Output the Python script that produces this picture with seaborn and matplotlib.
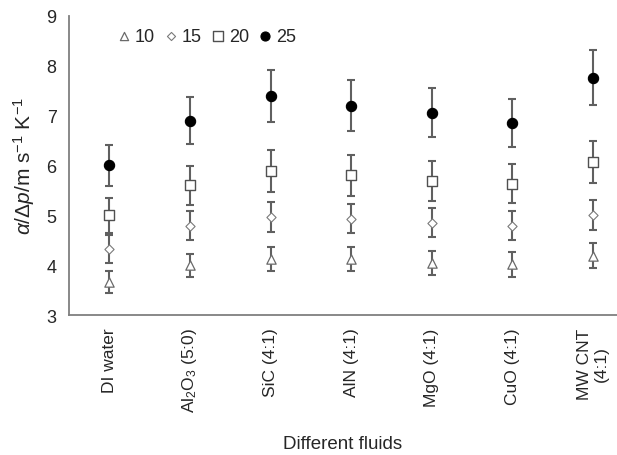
import numpy as np
import pandas as pd
import matplotlib
matplotlib.use("Agg")
import matplotlib.pyplot as plt
import seaborn as sns

fluids = ["DI water", r"Al$_2$O$_3$ (5:0)", "SiC (4:1)", "AlN (4:1)",
          "MgO (4:1)", "CuO (4:1)", "MW CNT\n(4:1)"]
series_labels = ["10", "15", "20", "25"]

vals_10 = [3.67, 4.00, 4.13, 4.13, 4.05, 4.02, 4.19]
vals_15 = [4.33, 4.79, 4.97, 4.93, 4.85, 4.79, 5.01]
vals_20 = [5.00, 5.60, 5.89, 5.80, 5.69, 5.63, 6.07]
vals_25 = [6.00, 6.90, 7.40, 7.20, 7.06, 6.85, 7.76]

err_10 = [0.22, 0.23, 0.24, 0.24, 0.24, 0.25, 0.25]
err_15 = [0.28, 0.29, 0.30, 0.29, 0.29, 0.29, 0.30]
err_20 = [0.35, 0.39, 0.42, 0.41, 0.40, 0.39, 0.42]
err_25 = [0.42, 0.47, 0.52, 0.51, 0.49, 0.48, 0.55]

sns.set_style("white")
plt.rcParams["font.family"] = ["Liberation Sans", "DejaVu Sans"]
plt.rcParams["mathtext.fontset"] = "custom"
plt.rcParams["mathtext.rm"] = "Liberation Sans"
plt.rcParams["mathtext.it"] = "Liberation Sans:italic"
plt.rcParams["mathtext.bf"] = "Liberation Sans:bold"

fig = plt.figure(figsize=(6.17, 4.56), dpi=100)
ax = fig.add_axes([0.112, 0.307, 0.888, 0.656])

x_pos = np.arange(len(fluids))
all_vals = [vals_10, vals_15, vals_20, vals_25]
all_errs = [err_10, err_15, err_20, err_25]
styles = [
    dict(marker="^", s=45, facecolor="white", edgecolor="#6a6a6a", linewidth=0.9),
    dict(marker="D", s=22, facecolor="white", edgecolor="#7a7a7a", linewidth=0.8),
    dict(marker="s", s=55, facecolor="white", edgecolor="#505050", linewidth=1.0),
    dict(marker="o", s=55, facecolor="black", edgecolor="black", linewidth=0.8),
]

for lab, v, e, st in zip(series_labels, all_vals, all_errs, styles):
    ax.errorbar(x_pos, v, yerr=e, fmt="none", ecolor="#606060",
                elinewidth=1.5, capsize=3.2, capthick=1.5, zorder=2)
    df = pd.DataFrame({"x": x_pos, "y": v})
    sns.scatterplot(data=df, x="x", y="y", ax=ax, label=lab, zorder=3, **st)

ax.set_xlim(-0.5, 6.3)
ax.set_ylim(3, 9)
ax.set_yticks([3, 4, 5, 6, 7, 8, 9])
ax.set_xticks(x_pos)
ax.set_xticklabels(fluids, rotation=90, fontsize=12.5, ha="center", va="top",
                   multialignment="center")
ax.tick_params(axis="y", labelsize=13, length=0, pad=9)
ax.tick_params(axis="x", length=0, pad=9)

for side in ["top", "right"]:
    ax.spines[side].set_visible(False)
for side in ["left", "bottom"]:
    ax.spines[side].set_color("#7f7f7f")
    ax.spines[side].set_linewidth(1.3)

ax.set_ylabel(r"$\alpha/\Delta p$/m s$^{-1}$ K$^{-1}$", fontsize=15, labelpad=7)
ax.set_xlabel("Different fluids", fontsize=13.5, labelpad=16)

leg = ax.legend(loc="upper left", bbox_to_anchor=(0.062, 1.003), ncol=4, frameon=False,
                fontsize=13, handlelength=0.9, handletextpad=0.15, columnspacing=0.45,
                borderaxespad=0.3, markerscale=0.88)

fig.savefig("out.png", dpi=100)
